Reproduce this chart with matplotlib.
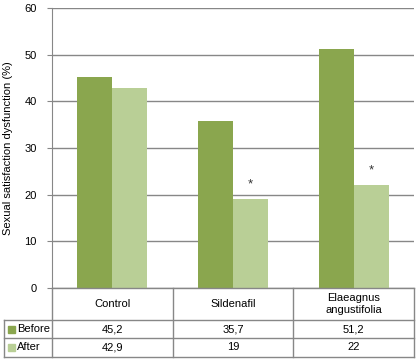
import matplotlib
matplotlib.use("Agg")
import matplotlib.pyplot as plt
from matplotlib.transforms import blended_transform_factory
from matplotlib.lines import Line2D
from matplotlib.patches import Rectangle

categories = ["Control", "Sildenafil", "Elaeagnus\nangustifolia"]
series_names = ["Before", "After"]
before = [45.2, 35.7, 51.2]
after = [42.9, 19, 22]
before_labels = ["45,2", "35,7", "51,2"]
after_labels = ["42,9", "19", "22"]
significant = [False, True, True]
yticks = [0, 10, 20, 30, 40, 50, 60]

c_before = "#8AA64E"
c_after = "#B9CF96"
grid_c = "#878787"
fs = 8
plt.rcParams['font.family'] = ['Liberation Sans', 'DejaVu Sans']

W, H = 417, 362
fig = plt.figure(figsize=(W / 100, H / 100), dpi=100)
left, right, bottom, top = 52, 414, 288, 8
ax = fig.add_axes([left / W, 1 - bottom / H, (right - left) / W, (bottom - top) / H])

x = list(range(len(categories)))
bw = 0.29
ax.bar([i - bw / 2 for i in x], before, width=bw, color=c_before, zorder=3)
ax.bar([i + bw / 2 for i in x], after, width=bw, color=c_after, zorder=3)
for i in x:
    if significant[i]:
        ax.text(i + bw / 2, after[i] + 1.9, "*", ha="center", va="bottom", fontsize=9.5, color="#333333")

ax.set_xlim(-0.5, len(categories) - 0.5)
ax.set_ylim(0, 60)
ax.set_yticks(yticks)
ax.set_yticklabels([str(t) for t in yticks], fontsize=fs)
ax.yaxis.grid(True, color=grid_c, linewidth=1)
ax.set_axisbelow(True)
ax.set_xticks([])
for s in ["top", "right", "bottom"]:
    ax.spines[s].set_visible(False)
ax.spines["left"].set_color(grid_c)
ax.tick_params(axis="y", length=3.5, color=grid_c, pad=7.5)
ax.set_ylabel("Sexual satisfaction dysfunction (%)", fontsize=fs, labelpad=8)

# data table below the axis
def fy(py):
    return 1 - py / H

def fx(px):
    return px / W

bt = blended_transform_factory(ax.transData, fig.transFigure)
lw = 1
lc = grid_c
y0, y1, y2, y3 = 288, 320, 338, 357
x0 = 4
for yy, xs in [(y0, left), (y1, x0), (y2, x0), (y3, x0)]:
    fig.add_artist(Line2D([fx(xs), fx(right)], [fy(yy), fy(yy)], color=lc, lw=lw))
for xx in [left, right]:
    fig.add_artist(Line2D([fx(xx), fx(xx)], [fy(y0), fy(y3)], color=lc, lw=lw))
for i in range(1, len(categories)):
    fig.add_artist(Line2D([i - 0.5, i - 0.5], [fy(y0), fy(y3)], color=lc, lw=lw, transform=bt))
fig.add_artist(Line2D([fx(x0), fx(x0)], [fy(y1), fy(y3)], color=lc, lw=lw))

for i, cat in enumerate(categories):
    fig.text(i, fy((y0 + y1) / 2), cat, ha="center", va="center", fontsize=fs, transform=bt,
             linespacing=1.25)
    fig.text(i, fy((y1 + y2) / 2), before_labels[i], ha="center", va="center", fontsize=fs, transform=bt)
    fig.text(i, fy((y2 + y3) / 2), after_labels[i], ha="center", va="center", fontsize=fs, transform=bt)

for (yy0, yy1), name, col in [((y1, y2), series_names[0], c_before), ((y2, y3), series_names[1], c_after)]:
    cy = (yy0 + yy1) / 2
    fig.add_artist(Rectangle((fx(8), fy(cy + 3.5)), 7 / W, 7 / H, color=col, transform=fig.transFigure))
    fig.text(fx(17), fy(cy), name, ha="left", va="center", fontsize=fs)

fig.savefig("out.png", dpi=100)
